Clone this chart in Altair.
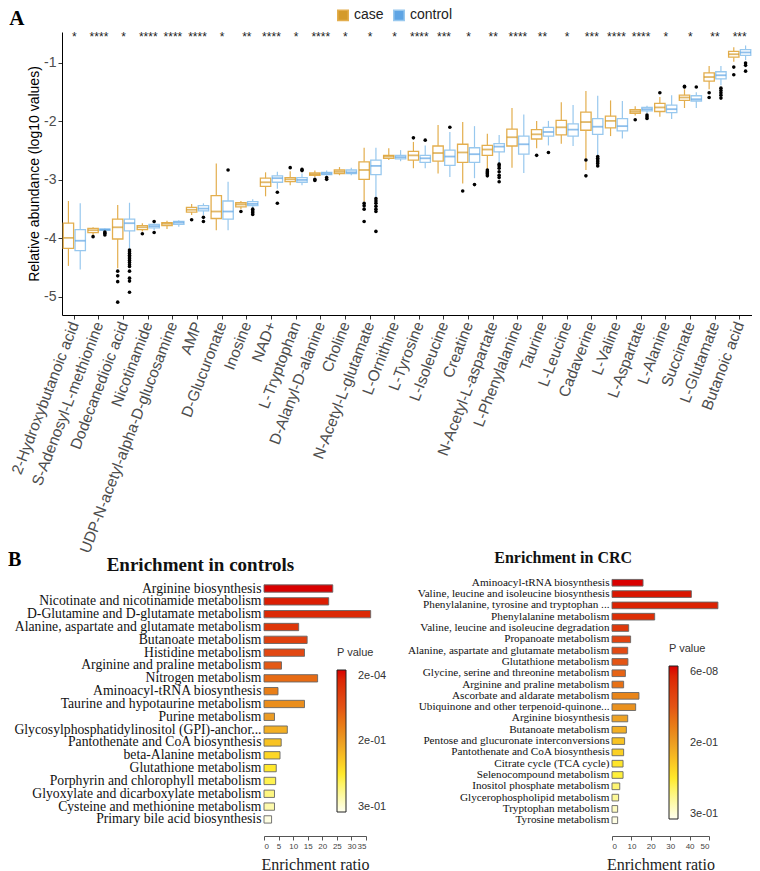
import altair as alt
import pandas as pd

metabolites = ["2-Hydroxybutanoic acid", "S-Adenosyl-L-methionine", "Dodecanedioic acid", "Nicotinamide",
               "UDP-N-acetyl-alpha-D-glucosamine", "AMP", "D-Glucuronate", "Inosine", "NAD+", "L-Tryptophan",
               "D-Alanyl-D-alanine", "Choline", "N-Acetyl-L-glutamate", "L-Ornithine", "L-Tyrosine", "L-Isoleucine",
               "Creatine", "N-Acetyl-L-aspartate", "L-Phenylalanine", "Taurine", "L-Leucine", "Cadaverine",
               "L-Valine", "L-Aspartate", "L-Alanine", "Succinate", "L-Glutamate", "Butanoic acid"]
stars = ["*", "****", "*", "****", "****", "****", "*", "**", "****", "*", "****", "*", "*", "*",
         "****", "***", "*", "**", "****", "**", "*", "***", "****", "****", "*", "*", "**", "***"]

# case: lower whisker, Q1, median, Q3, upper whisker
case_lo = [-4.47, -3.94, -4.51, -3.88, -3.84, -3.60, -3.86, -3.50, -3.28, -3.09, -2.95, -2.92, -3.37, -2.66,
           -2.80, -2.89, -3.06, -2.83, -2.79, -2.46, -2.38, -2.83, -2.25, -1.90, -1.92, -1.77, -1.45, -0.98]
case_q1 = [-4.17, -3.90, -4.01, -3.85, -3.78, -3.55, -3.66, -3.46, -3.11, -3.03, -2.92, -2.89, -2.99, -2.63,
           -2.66, -2.68, -2.70, -2.58, -2.42, -2.30, -2.23, -2.15, -2.11, -1.86, -1.83, -1.64, -1.31, -0.90]
case_med = [-3.99, -3.86, -3.81, -3.81, -3.75, -3.51, -3.54, -3.42, -3.04, -2.99, -2.90, -2.86, -2.83, -2.60,
            -2.58, -2.54, -2.53, -2.48, -2.27, -2.22, -2.10, -2.01, -1.99, -1.83, -1.76, -1.59, -1.24, -0.85]
case_q3 = [-3.74, -3.83, -3.67, -3.78, -3.73, -3.47, -3.27, -3.39, -2.97, -2.96, -2.88, -2.83, -2.69, -2.58,
           -2.51, -2.42, -2.39, -2.41, -2.13, -2.14, -1.98, -1.84, -1.91, -1.80, -1.69, -1.55, -1.17, -0.80]
case_hi = [-3.36, -3.81, -3.43, -3.74, -3.70, -3.41, -2.72, -3.36, -2.87, -2.85, -2.84, -2.78, -2.45, -2.46,
           -2.35, -2.06, -2.01, -2.21, -1.77, -1.99, -1.67, -1.48, -1.64, -1.74, -1.58, -1.45, -1.05, -0.73]

ctrl_lo = [-4.53, -3.87, -4.17, -3.86, -3.80, -3.60, -3.86, -3.49, -3.15, -3.09, -2.93, -2.92, -3.29, -2.68,
           -2.80, -2.95, -2.97, -2.72, -2.88, -2.41, -2.42, -2.58, -2.29, -1.86, -1.96, -1.77, -1.38, -0.95]
ctrl_q1 = [-4.21, -3.86, -3.87, -3.82, -3.76, -3.53, -3.67, -3.44, -3.04, -3.04, -2.91, -2.89, -2.91, -2.64,
           -2.70, -2.75, -2.70, -2.52, -2.56, -2.25, -2.25, -2.22, -2.16, -1.82, -1.85, -1.65, -1.27, -0.87]
ctrl_med = [-4.04, -3.85, -3.74, -3.79, -3.73, -3.49, -3.54, -3.41, -2.97, -3.00, -2.89, -2.87, -2.76, -2.61,
            -2.63, -2.60, -2.56, -2.43, -2.39, -2.18, -2.14, -2.09, -2.08, -1.79, -1.79, -1.62, -1.21, -0.82]
ctrl_q3 = [-3.85, -3.84, -3.67, -3.76, -3.71, -3.44, -3.36, -3.37, -2.93, -2.96, -2.87, -2.83, -2.66, -2.58,
           -2.58, -2.49, -2.45, -2.38, -2.25, -2.10, -2.04, -1.95, -1.95, -1.76, -1.72, -1.56, -1.15, -0.77]
ctrl_hi = [-3.40, -3.83, -3.39, -3.74, -3.69, -3.40, -3.03, -3.33, -2.86, -2.89, -2.84, -2.79, -2.45, -2.49,
           -2.41, -2.18, -2.08, -2.23, -1.88, -1.99, -1.72, -1.56, -1.65, -1.73, -1.55, -1.50, -1.05, -0.70]

case_out = [[], [-3.97], [-4.56, -4.64, -4.74, -5.09], [-3.92], [], [-3.68], [], [-3.54], [], [-2.79],
            [-2.99, -3.01], [], [-3.40, -3.44, -3.50, -3.71], [], [-2.28], [], [-3.19],
            [-2.83, -2.86, -2.88, -2.90, -2.93], [], [-2.58], [], [-2.66, -2.93], [], [-1.97], [-1.51],
            [-1.40, -1.41], [-1.51, -1.59], [-1.07, -1.20]]
ctrl_out = [[], [-3.89, -3.91, -3.94],
            [-4.20, -4.23, -4.26, -4.29, -4.32, -4.35, -4.38, -4.41, -4.45, -4.48, -4.56, -4.68, -4.73, -4.92],
            [-3.71, -3.90], [], [-3.64, -3.71], [-2.83], [-3.50, -3.53, -3.56, -3.59], [-3.21, -3.40],
            [-2.82, -2.84], [-2.96, -2.99], [], [-3.32, -3.36, -3.40, -3.45, -3.50, -3.54, -3.88], [], [-2.32],
            [-2.10], [-3.08], [-2.73, -2.76, -2.80, -2.86, -2.92, -2.96, -3.03], [], [-2.53], [],
            [-2.60, -2.63, -2.66, -2.69, -2.72, -2.76], [], [-1.89, -1.92, -1.95], [], [-1.41],
            [-1.43, -1.47, -1.51, -1.55, -1.60], [-1.00, -1.04, -1.14]]

ctrl_pathways = ["Arginine biosynthesis", "Nicotinate and nicotinamide metabolism",
                 "D-Glutamine and D-glutamate metabolism", "Alanine, aspartate and glutamate metabolism",
                 "Butanoate metabolism", "Histidine metabolism", "Arginine and praline metabolism",
                 "Nitrogen metabolism", "Aminoacyl-tRNA biosynthesis", "Taurine and hypotaurine metabolism",
                 "Purine metabolism", "Glycosylphosphatidylinositol (GPI)-anchor...",
                 "Pantothenate and CoA biosynthesis", "beta-Alanine metabolism", "Glutathione metabolism",
                 "Porphyrin and chlorophyll metabolism", "Glyoxylate and dicarboxylate metabolism",
                 "Cysteine and methionine metabolism", "Primary bile acid biosynthesis"]
ctrl_ratio = [23.6, 22.2, 36.6, 11.9, 14.8, 13.9, 6.0, 18.4, 4.8, 13.9, 3.6, 8.0, 5.9, 5.5, 4.2, 4.0, 3.6, 3.6, 2.6]
ctrl_p = [0.0002, 0.015, 0.025, 0.04, 0.055, 0.066, 0.084, 0.10, 0.12, 0.135, 0.15, 0.168, 0.186, 0.204,
          0.219, 0.234, 0.252, 0.27, 0.294]

crc_pathways = ["Aminoacyl-tRNA biosynthesis", "Valine, leucine and isoleucine biosynthesis",
                "Phenylalanine, tyrosine and tryptophan ...", "Phenylalanine metabolism",
                "Valine, leucine and isoleucine degradation", "Propanoate metabolism",
                "Alanine, aspartate and glutamate metabolism", "Glutathione metabolism",
                "Glycine, serine and threonine metabolism", "Arginine and praline metabolism",
                "Ascorbate and aldarate metabolism", "Ubiquinone and other terpenoid-quinone...",
                "Arginine biosynthesis", "Butanoate metabolism", "Pentose and glucuronate interconversions",
                "Pantothenate and CoA biosynthesis", "Citrate cycle (TCA cycle)", "Selenocompound metabolism",
                "Inositol phosphate metabolism", "Glycerophospholipid metabolism", "Tryptophan metabolism",
                "Tyrosine metabolism"]
crc_ratio = [16.0, 40.9, 54.6, 22.0, 8.6, 9.6, 8.1, 8.2, 6.9, 6.0, 13.9, 12.2, 8.1, 7.4, 6.5, 6.0, 5.7, 5.7,
             4.0, 3.4, 2.9, 2.9]
crc_p = [0.00000006, 0.009, 0.018, 0.03, 0.042, 0.057, 0.069, 0.081, 0.093, 0.105, 0.126, 0.138, 0.156, 0.168,
         0.186, 0.198, 0.216, 0.228, 0.246, 0.261, 0.279, 0.294]

CASE = "#E3AE4E"
CTRL = "#98C8EE"
CASE_MED = "#D49A2A"
CTRL_MED = "#5EA4E4"
GRAD = ["#D90000", "#E34E16", "#EB9C25", "#FFEF2E", "#FFFFF0"]
SANS = "Liberation Sans"
SERIF = "Liberation Serif"

rows = []
for i, m in enumerate(metabolites):
    rows.append(dict(metabolite=m, group="case", lo=case_lo[i], q1=case_q1[i], med=case_med[i],
                     q3=case_q3[i], hi=case_hi[i]))
    rows.append(dict(metabolite=m, group="control", lo=ctrl_lo[i], q1=ctrl_q1[i], med=ctrl_med[i],
                     q3=ctrl_q3[i], hi=ctrl_hi[i]))
box_df = pd.DataFrame(rows)
out_rows = []
for i, m in enumerate(metabolites):
    for v in case_out[i]:
        out_rows.append(dict(metabolite=m, group="case", value=v))
    for v in ctrl_out[i]:
        out_rows.append(dict(metabolite=m, group="control", value=v))
out_df = pd.DataFrame(out_rows)
star_df = pd.DataFrame(dict(metabolite=metabolites, star=stars))

x_enc = alt.X("metabolite:N", sort=metabolites,
              scale=alt.Scale(paddingInner=0.1, paddingOuter=0.05),
              axis=alt.Axis(title=None, labelAngle=-69, labelAlign="right", labelBaseline="middle",
                            labelFont=SANS, labelFontSize=15.5, labelColor="#4d4d4d", labelLimit=400,
                            labelPadding=3, tickSize=4, tickColor="#333", domainColor="#000"))
xo = alt.XOffset("group:N", sort=["case", "control"],
                 scale=alt.Scale(domain=["case", "control"], paddingInner=0.12, paddingOuter=0.0))
yscale = alt.Scale(domain=[-5.31, -0.47], nice=False, zero=False)
y_axis = alt.Axis(values=[-5, -4, -3, -2, -1], labelExpr="'' + datum.value",
                  title="Relative abundance (log10 values)", grid=False,
                  titleFont=SANS, titleFontSize=14, titleFontWeight="normal", titleColor="#000",
                  titlePadding=2, labelFont=SANS, labelFontSize=14, labelColor="#4d4d4d", labelPadding=2,
                  tickSize=4, tickColor="#333", domainColor="#000")
col = alt.Color("group:N", scale=alt.Scale(domain=["case", "control"], range=[CASE, CTRL]),
                legend=alt.Legend(title=None, orient="none", direction="horizontal", legendX=274,
                                  legendY=-24, symbolType="square", symbolSize=110, symbolStrokeWidth=1.5,
                                  labelFont=SANS, labelFontSize=14, labelColor="#222", columnPadding=6))

base = alt.Chart(box_df)
whisk_lo = base.mark_rule(strokeWidth=1.2).encode(
    x=x_enc, xOffset=xo, y=alt.Y("lo:Q", scale=yscale, axis=y_axis), y2="q1:Q", color=col)
whisk_hi = base.mark_rule(strokeWidth=1.2).encode(
    x=x_enc, xOffset=xo, y=alt.Y("q3:Q", scale=yscale), y2="hi:Q", color=col)
boxes = base.mark_bar(filled=False, strokeWidth=1.3).encode(
    x=x_enc, xOffset=xo, y=alt.Y("q1:Q", scale=yscale), y2="q3:Q", color=col)
medians = base.mark_tick(thickness=1.8, size=10.5).encode(
    x=x_enc, xOffset=xo, y=alt.Y("med:Q", scale=yscale),
    fill=alt.Fill("group:N", scale=alt.Scale(domain=["case", "control"], range=[CASE_MED, CTRL_MED]),
                  legend=None))
outliers = alt.Chart(out_df).mark_circle(size=13, color="#000", opacity=1).encode(
    x=x_enc, xOffset=xo, y=alt.Y("value:Q", scale=yscale))
star_marks = alt.Chart(star_df).mark_text(font=SANS, fontSize=12, color="#222", baseline="middle").encode(
    x=x_enc, y=alt.datum(-0.56), text="star:N")

top_chart = alt.layer(whisk_lo, whisk_hi, boxes, medians, outliers, star_marks).properties(
    width=690, height=283,
    title=alt.TitleParams("A", anchor="start", frame="bounds", offset=-21, font=SERIF, fontSize=21,
                          fontWeight="bold", color="#000"))


def spacer(w):
    return alt.Chart(pd.DataFrame({"s": [""]})).mark_text(opacity=0).encode(text="s:N").properties(
        width=w, height=1)


def enrich(pathways, ratio, pvals, xmax, xticks, pdomain, plabels, title, title_size, title_offset,
           label_size, width, height, pad_inner, pad_outer, band_align, legend_x, legend_y, grad_len):
    df = pd.DataFrame(dict(pathway=pathways, ratio=ratio, p=pvals))
    lo, hi = pdomain
    dom = [-hi + (hi - lo) * k / 4 for k in range(5)]
    mid = (lo + hi) / 2
    expr = ("datum.value > %g ? '%s' : datum.value > %g ? '%s' : '%s'"
            % (-mid * 0.5, plabels[0], -(mid + hi) / 2, plabels[1], plabels[2]))
    return alt.Chart(df).transform_calculate(neg_p="-datum.p").mark_bar(stroke="#666", strokeWidth=0.9).encode(
        y=alt.Y("pathway:N", sort=None,
                scale=alt.Scale(paddingInner=pad_inner, paddingOuter=pad_outer, align=band_align),
                axis=alt.Axis(title=None, domain=False, ticks=False, labelFont=SERIF, labelFontSize=label_size,
                              labelColor="#111", labelPadding=3, labelLimit=500)),
        x=alt.X("ratio:Q", scale=alt.Scale(domain=[0, xmax], nice=False),
                axis=alt.Axis(values=xticks, title="Enrichment ratio", titleFont=SERIF, titleFontSize=16,
                              titleFontWeight="normal", titleColor="#222", titlePadding=6, labelFont=SANS,
                              labelFontSize=8, labelColor="#444", tickSize=4, tickColor="#555",
                              domainColor="#555", grid=False, offset=10)),
        color=alt.Color("neg_p:Q", scale=alt.Scale(domain=dom, range=GRAD[::-1]),
                        legend=alt.Legend(title="P value", orient="none", legendX=legend_x, legendY=legend_y,
                                          values=[-lo, -mid, -hi], labelExpr=expr, gradientLength=grad_len,
                                          gradientThickness=9, gradientStrokeColor="#222",
                                          gradientStrokeWidth=1, titleFont=SANS, titleFontSize=11,
                                          titleFontWeight="normal", titleColor="#333", titlePadding=12,
                                          labelFont=SANS, labelFontSize=11, labelColor="#333",
                                          labelOffset=12))
    ).properties(width=width, height=height,
                 title=alt.TitleParams(title, font=SERIF, fontSize=title_size, fontWeight="bold",
                                       color="#111", anchor="middle", frame="bounds", offset=title_offset))


left = enrich(ctrl_pathways, ctrl_ratio, ctrl_p, 35, [0, 5, 10, 15, 20, 25, 30, 35], [0.0002, 0.3],
              ["2e-04", "2e-01", "3e-01"], "Enrichment in controls", 19, 2, 13.7, 102, 249,
              0.43, 0.42, 0.73, 73, 70, 142)
right = enrich(crc_pathways, crc_ratio, crc_p, 50, [0, 10, 20, 30, 40, 50], [0.00000006, 0.3],
               ["6e-08", "2e-01", "3e-01"], "Enrichment in  CRC", 16, 10, 11.2, 97, 249,
               0.41, 0.215, 0.5, 57, 66, 153)

pair = alt.hconcat(left, right, spacing=20).resolve_scale(color="independent", x="independent",
                                                          y="independent")
bottom = alt.hconcat(spacer(5), pair, spacing=0).resolve_scale(
    color="independent", x="independent", y="independent").properties(
    title=alt.TitleParams("B", anchor="start", frame="bounds", offset=-20, font=SERIF, fontSize=20,
                          fontWeight="bold", color="#000"))
top = alt.hconcat(spacer(1), top_chart, spacing=0).resolve_scale(
    color="independent", x="independent", y="independent", fill="independent")

chart = alt.vconcat(top, bottom, spacing=-6).resolve_scale(
    color="independent", x="independent", y="independent", fill="independent"
).properties(padding=0, background="white").configure_view(stroke=None)

chart.save("out.html", embed_options={"renderer": "svg", "actions": False})
